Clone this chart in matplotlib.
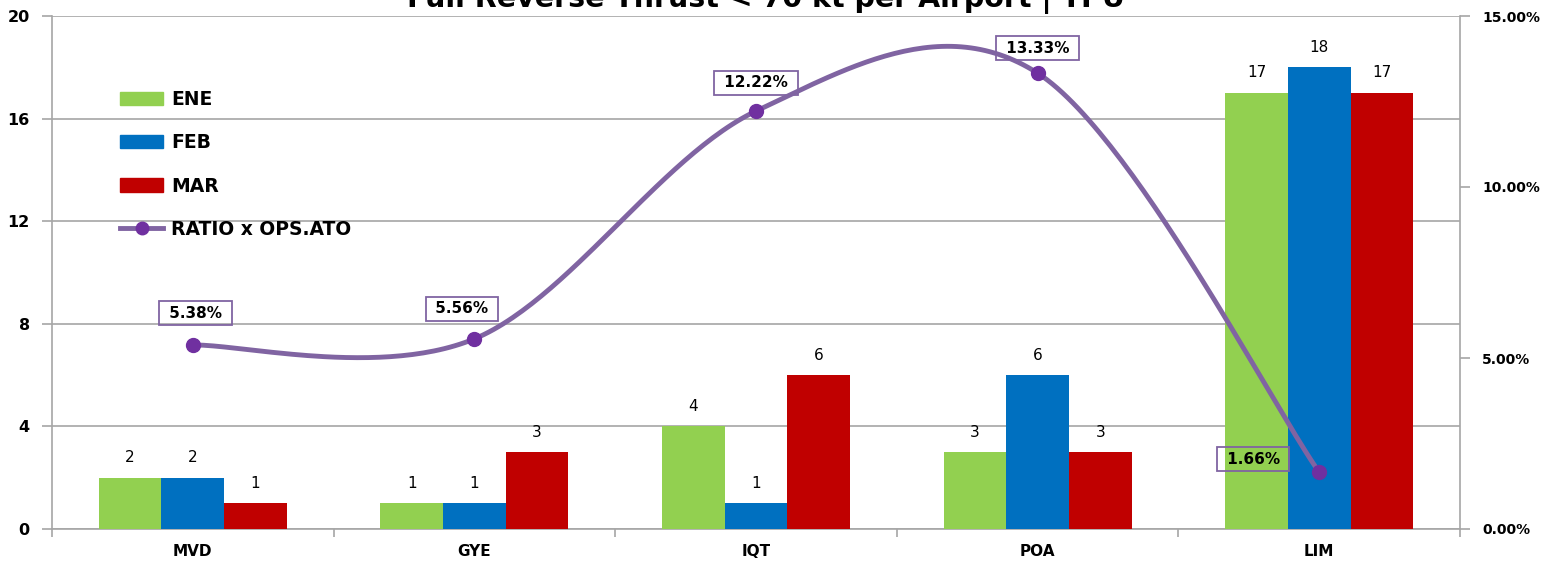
import numpy as np
import matplotlib
matplotlib.use("Agg")
import matplotlib.pyplot as plt
from matplotlib.lines import Line2D
from matplotlib.patches import Patch

airports = ["MVD", "GYE", "IQT", "POA", "LIM"]
ene = [2, 1, 4, 3, 17]
feb = [2, 1, 1, 6, 18]
mar = [1, 3, 6, 3, 17]
ratio = [5.38, 5.56, 12.22, 13.33, 1.66]  # percent
ratio_labels = ["5.38%", "5.56%", "12.22%", "13.33%", "1.66%"]
left_ticks = [0, 4, 8, 12, 16, 20]
right_ticks = [0, 5, 10, 15]

GREEN = "#92D050"
BLUE = "#0070C0"
RED = "#C00000"
LINE = "#8064A2"
MARK = "#7030A0"
GRID = "#A6A6A6"

W, H = 1547, 561
fig = plt.figure(figsize=(W / 100, H / 100), dpi=100)
ax_rect = [52 / W, 1 - 529 / H, (1460 - 52) / W, (529 - 16) / H]
ax = fig.add_axes(ax_rect)
ax2 = ax.twinx()

x = np.arange(len(airports))
bw = 0.2227
series = [(ene, GREEN, "ENE", -1), (feb, BLUE, "FEB", 0), (mar, RED, "MAR", 1)]
for vals, col, name, k in series:
    bars = ax.bar(x + k * bw, vals, width=bw, color=col, zorder=3, label=name)
    for b, v in zip(bars, vals):
        ax.annotate(str(v), (b.get_x() + b.get_width() / 2, v),
                    xytext=(0, 9), textcoords="offset points",
                    ha="center", va="bottom", fontsize=11, color="black")

ax.set_xlim(-0.5, len(airports) - 0.5)
ax.set_ylim(0, 20)
ax.set_yticks(left_ticks)
ax.set_yticklabels([str(t) for t in left_ticks], fontweight="bold", fontsize=11.5)
ax.yaxis.grid(True, color=GRID, linewidth=1.2, zorder=0)
ax.set_axisbelow(True)
ax.set_xticks(x)
ax.set_xticklabels(airports, fontweight="bold", fontsize=11)
ax.tick_params(axis="x", length=0, pad=11)
ax.set_xticks(np.arange(-0.5, len(airports), 1.0), minor=True)
ax.tick_params(axis="x", which="minor", length=6, color=GRID, width=1.2, direction="out")
ax.tick_params(axis="y", length=7, color=GRID, width=1.2, pad=9)
for s in ["top", "right"]:
    ax.spines[s].set_visible(False)
for s in ["left", "bottom"]:
    ax.spines[s].set_color(GRID)
    ax.spines[s].set_linewidth(1.2)

# Smoothed ratio line (Bezier spline in screen-proportional units)
ax_w_px = ax_rect[2] * W
ax_h_px = ax_rect[3] * H
sx = ax_w_px / len(airports)
sy = ax_h_px / 15.0
P = np.column_stack([x * sx, np.array(ratio) * sy])
pts = np.vstack([P[0], P, P[-1]])
curve = []
t = np.linspace(0, 1, 60)
for i in range(1, len(pts) - 2):
    p0, p1, p2, p3 = pts[i - 1], pts[i], pts[i + 1], pts[i + 2]
    c1 = p1 + (p2 - p0) / 6
    c2 = p2 - (p3 - p1) / 6
    seg = ((1 - t) ** 3)[:, None] * p1 + (3 * (1 - t) ** 2 * t)[:, None] * c1 \
        + (3 * (1 - t) * t ** 2)[:, None] * c2 + (t ** 3)[:, None] * p2
    curve.append(seg)
curve = np.vstack(curve)
ax2.plot(curve[:, 0] / sx, curve[:, 1] / sy, color=LINE, linewidth=3.5,
         solid_capstyle="round", zorder=4)
ax2.plot(x, ratio, "o", color=MARK, markersize=10, zorder=5)

offsets = [(2, 23), (-9, 21.5), (0, 20.5), (0, 18), (-47.5, 9.4)]
for xi, v, lab, off in zip(x, ratio, ratio_labels, offsets):
    ax2.annotate(" " + lab + " ", (xi, v), xytext=off, textcoords="offset points",
                 ha="center", va="center", fontsize=11, fontweight="bold",
                 bbox=dict(boxstyle="square,pad=0.3", fc="none", ec=LINE, lw=1.3),
                 zorder=6)

ax2.set_ylim(0, 15)
ax2.set_yticks(right_ticks)
ax2.set_yticklabels([f"{t:.2f}%" for t in right_ticks], fontweight="bold", fontsize=10)
ax2.tick_params(axis="y", length=7, color=GRID, width=1.2, pad=9)
for s in ["top", "left", "bottom"]:
    ax2.spines[s].set_visible(False)
ax2.spines["right"].set_color(GRID)
ax2.spines["right"].set_linewidth(1.2)
ax2.set_xlim(-0.5, len(airports) - 0.5)

handles = [Patch(color=GREEN), Patch(color=BLUE), Patch(color=RED),
           Line2D([0], [0], color=LINE, lw=3.5, marker="o", markersize=9,
                  markerfacecolor=MARK, markeredgecolor=MARK)]
leg = ax.legend(handles, ["ENE", "FEB", "MAR", "RATIO x OPS.ATO"],
                loc="upper left", bbox_to_anchor=(0.0366, 0.889), frameon=False,
                prop={"weight": "bold", "size": 13.5}, labelspacing=1.3,
                handlelength=2.25, handleheight=0.7, handletextpad=0.45)
leg.set_zorder(10)

fig.text(0.495, 1 - 7 / H, "Full Reverse Thrust < 70 kt per Airport | TPU",
         ha="center", va="baseline", fontsize=20.5, fontweight="bold")

fig.savefig("out.png", dpi=100)
